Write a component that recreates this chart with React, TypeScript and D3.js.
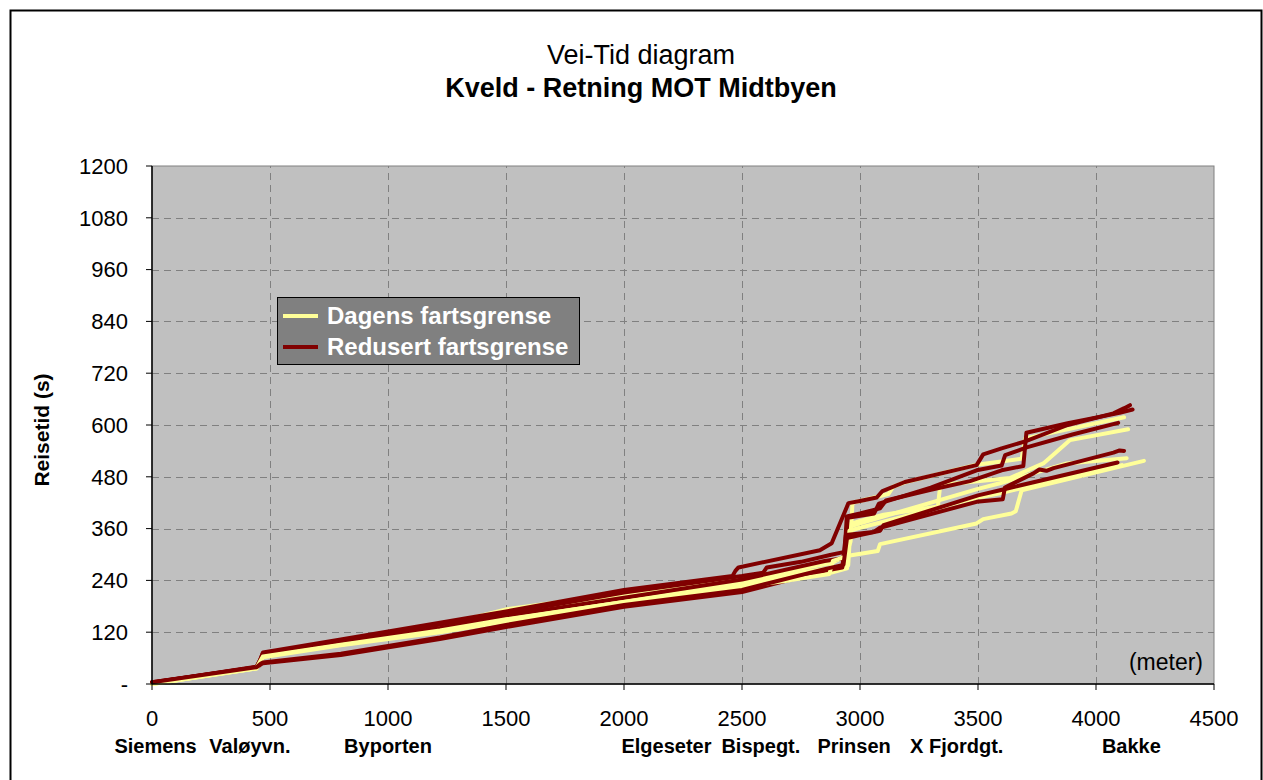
import React from "react";
import * as d3 from "d3";

// Distance along the route (m) vs. accumulated travel time (s), one array per run.
type Pt = [number, number];

const dagens1: Pt[] = [[0,1],[200,18],[443,38],[458,52],[470,70],[800,98],[1220,135],[1500,173],[2000,210],[2400,240],[2700,262],[2880,280],[2940,298],[2960,330],[2968,420],[3000,424],[3120,440],[3141,457],[3190,467],[3494,508],[3685,522],[3700,569],[4119,618]];
const dagens2: Pt[] = [[0,0],[200,17],[443,37],[470,68],[800,95],[1220,132],[1500,162],[2000,203],[2400,235],[2700,255],[2900,270],[2945,280],[2955,370],[3000,378],[3100,392],[3330,411],[3340,461],[3635,477],[3777,511],[3890,565],[4136,590]];
const dagens3: Pt[] = [[0,0],[443,36],[470,66],[800,93],[1220,128],[1500,155],[2000,195],[2400,228],[2700,250],[2900,265],[2950,275],[2960,365],[3000,372],[3500,452],[3593,465],[3876,511],[4130,523]];
const dagens4: Pt[] = [[0,1],[443,37],[470,64],[800,91],[1220,124],[1500,150],[2000,190],[2400,222],[2700,245],[2880,258],[2945,268],[2955,355],[3000,362],[3500,432],[3593,442],[4110,507]];
const dagens5: Pt[] = [[0,0],[443,36],[470,62],[800,90],[1220,120],[1500,145],[2000,186],[2400,218],[2700,240],[2870,255],[2885,285],[2950,297],[3075,308],[3085,324],[3494,372],[3522,382],[3642,395],[3660,400],[3685,449],[4203,517]];

const redusert1: Pt[] = [[0,3],[200,20],[443,40],[458,55],[470,73],[800,103],[1220,142],[1500,168],[2000,218],[2460,250],[2472,262],[2485,270],[2830,310],[2880,326],[2951,419],[3000,424],[3071,432],[3095,447],[3190,468],[3494,507],[3522,532],[3600,546],[3700,562],[3880,600],[4074,627],[4120,639],[4144,646]];
const redusert2: Pt[] = [[0,4],[200,19],[443,39],[458,54],[470,71],[800,100],[1220,138],[1500,164],[2000,212],[2500,250],[2590,258],[2605,270],[2750,283],[2873,299],[2935,306],[2944,388],[3000,395],[3085,407],[3110,425],[3300,450],[3466,470],[3600,495],[3692,505],[3705,582],[3880,604],[4100,628],[4155,636]];
const redusert3: Pt[] = [[0,3],[443,38],[470,70],[800,96],[1220,130],[1500,158],[2000,200],[2500,242],[2850,285],[2935,292],[2948,385],[3060,395],[3080,418],[3300,455],[3494,495],[3600,506],[3615,530],[3706,548],[3900,578],[4094,605]];
const redusert4: Pt[] = [[0,3],[200,19],[443,38],[460,45],[470,48],[800,67],[1220,104],[1500,132],[2000,179],[2500,213],[2850,262],[2925,270],[2940,345],[3057,352],[3085,362],[3494,422],[3605,428],[3614,455],[3735,488],[3760,497],[3790,494],[3820,500],[4074,536],[4100,541],[4119,540]];
const redusert5: Pt[] = [[0,4],[443,39],[460,47],[470,50],[800,70],[1220,108],[1500,137],[2000,183],[2500,218],[2850,266],[2930,276],[2945,338],[3000,345],[3085,355],[3100,368],[3500,437],[3593,449],[4091,513]];

const dagensRuns = [dagens1, dagens2, dagens3, dagens4, dagens5];
const redusertRuns = [redusert1, redusert2, redusert3, redusert4, redusert5];

const xTicks = [0, 500, 1000, 1500, 2000, 2500, 3000, 3500, 4000, 4500];
const yTicks = [0, 120, 240, 360, 480, 600, 720, 840, 960, 1080, 1200];

// Named stops along the route, placed by their label centre (m)
const stopNames = ["Siemens", "Valøyvn.", "Byporten", "Elgeseter", "Bispegt.", "Prinsen", "X Fjordgt.", "Bakke"];
const stopDistances = [15, 415, 1000, 2180, 2580, 2975, 3410, 4150];

const legendLabels = ["Dagens fartsgrense", "Redusert fartsgrense"];

const YELLOW = "#FFFF99";
const RED = "#800000";
const FONT = "'Liberation Sans', Arial, sans-serif";

export default function App() {
  const W = 1263, H = 780;
  const x = d3.scaleLinear().domain([0, 4500]).range([152, 1214]);
  const y = d3.scaleLinear().domain([0, 1200]).range([684, 166]);
  const line = d3.line<Pt>().x(d => x(d[0])).y(d => y(d[1]));

  const [x0, x1] = x.range();
  const [y0, y1] = y.range();

  const runs: { pts: Pt[]; color: string }[] = [];
  for (let i = 0; i < 5; i++) {
    runs.push({ pts: dagensRuns[i], color: YELLOW });
    runs.push({ pts: redusertRuns[i], color: RED });
  }

  return (
    <svg width={W} height={H} style={{ position: "absolute", left: 0, top: 0, background: "#fff" }} fontFamily={FONT}>
      <rect x={10.5} y={10.5} width={1251} height={800} fill="#fff" stroke="#000" strokeWidth={2} />

      <text x={641} y={64} textAnchor="middle" fontSize={27}>Vei-Tid diagram</text>
      <text x={641} y={97} textAnchor="middle" fontSize={27} fontWeight="bold">Kveld - Retning MOT Midtbyen</text>

      {/* plot area */}
      <rect x={x0} y={y1} width={x1 - x0} height={y0 - y1} fill="#C0C0C0" stroke="#808080" strokeWidth={1} />

      {/* grid */}
      {yTicks.filter(t => t > 0 && t < 1200).map(t => (
        <line key={"gy" + t} x1={x0} x2={x1} y1={Math.round(y(t)) + 0.5} y2={Math.round(y(t)) + 0.5} stroke="#808080" strokeDasharray="7,5" />
      ))}
      {xTicks.filter(t => t > 0 && t < 4500).map(t => (
        <line key={"gx" + t} y1={y0} y2={y1} x1={Math.round(x(t)) + 0.5} x2={Math.round(x(t)) + 0.5} stroke="#808080" strokeDasharray="7,5" />
      ))}

      {/* runs */}
      <g fill="none" strokeWidth={4} strokeLinejoin="round" strokeLinecap="round">
        {runs.map((r, i) => (
          <path key={i} d={line(r.pts) || ""} stroke={r.color} />
        ))}
      </g>

      {/* axes */}
      <line x1={x0} x2={x0} y1={y1} y2={y0} stroke="#000" strokeWidth={1.5} />
      <line x1={x0} x2={x1} y1={y0} y2={y0} stroke="#000" strokeWidth={1.5} />
      {yTicks.map(t => (
        <g key={"yt" + t}>
          <line x1={x0 - 6} x2={x0} y1={y(t)} y2={y(t)} stroke="#000" />
          <text x={128} y={y(t)} dy="0.35em" textAnchor="end" fontSize={22}>{t === 0 ? "-" : t}</text>
        </g>
      ))}
      {xTicks.map(t => (
        <g key={"xt" + t}>
          <line x1={x(t)} x2={x(t)} y1={y0} y2={y0 + 6} stroke="#000" />
          <text x={x(t)} y={726} textAnchor="middle" fontSize={22}>{t}</text>
        </g>
      ))}

      {stopNames.map((s, i) => (
        <text key={s} x={x(stopDistances[i])} y={753} textAnchor="middle" fontSize={20} fontWeight="bold">{s}</text>
      ))}

      <text x={1203} y={670} textAnchor="end" fontSize={23}>(meter)</text>

      <text transform="translate(49,430) rotate(-90)" textAnchor="middle" fontSize={21} fontWeight="bold">Reisetid (s)</text>

      {/* legend */}
      <rect x={277.5} y={297.5} width={302} height={67} fill="#808080" stroke="#000" strokeWidth={1} />
      {legendLabels.map((lab, i) => (
        <g key={lab}>
          <line x1={283} x2={318} y1={316 + i * 31} y2={316 + i * 31} stroke={i === 0 ? YELLOW : RED} strokeWidth={4} />
          <text x={327} y={316 + i * 31} dy="0.35em" fontSize={24} fontWeight="bold" fill="#fff">{lab}</text>
        </g>
      ))}
    </svg>
  );
}
